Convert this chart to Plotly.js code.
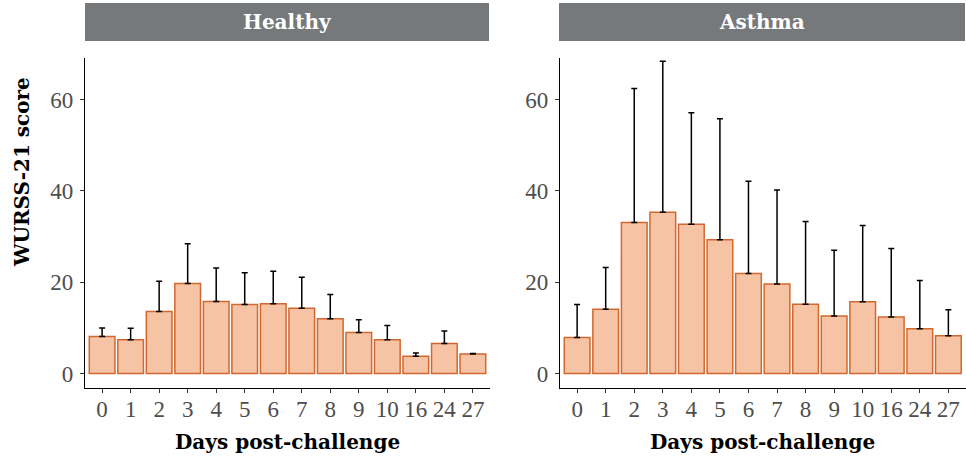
<!DOCTYPE html>
<html>
<head>
<meta charset="utf-8">
<script src="https://cdn.plot.ly/plotly-3.0.1.min.js"></script>
<style>html,body{margin:0;padding:0;background:#fff;}#chart{width:966px;height:462px;}</style>
</head>
<body>
<div id="chart"></div>
<script>
// Data
const days = ["0","1","2","3","4","5","6","7","8","9","10","16","24","27"];
const healthyMean  = [8.1, 7.4, 13.6, 19.7, 15.8, 15.1, 15.3, 14.3, 12.0, 9.0, 7.4, 3.8, 6.6, 4.3];
const healthyUpper = [10.0, 9.9, 20.2, 28.4, 23.1, 22.1, 22.4, 21.1, 17.3, 11.8, 10.5, 4.5, 9.3, 4.4];
const asthmaMean   = [7.9, 14.1, 33.1, 35.3, 32.7, 29.3, 21.9, 19.6, 15.2, 12.6, 15.7, 12.4, 9.8, 8.3];
const asthmaUpper  = [15.1, 23.2, 62.4, 68.4, 57.1, 55.8, 42.1, 40.2, 33.3, 27.0, 32.4, 27.4, 20.4, 14.0];
const panels = ["Healthy", "Asthma"];
const xTitle = "Days post-challenge";
const yTitle = "WURSS-21 score";

const W = 966, H = 462;
const px = v => v / W;
const py = v => (H - v) / H;

const fill = "#F6C4A5";
const edge = "#D2682F";
const serif = "Liberation Serif, DejaVu Serif, serif";
const titleSerif = "DejaVu Serif, Liberation Serif, serif";

function barTrace(mean, upper, xa, ya) {
  return {
    type: "bar",
    x: days,
    y: mean,
    xaxis: xa, yaxis: ya,
    width: 0.9,
    marker: {color: fill, line: {color: edge, width: 1.5}},
    error_y: {
      type: "data", symmetric: false,
      array: upper.map((u, i) => u - mean[i]),
      arrayminus: mean.map(() => 0),
      color: "#000", thickness: 1.5, width: 3
    },
    hoverinfo: "skip",
    showlegend: false
  };
}

const data = [
  barTrace(healthyMean, healthyUpper, "x", "y"),
  barTrace(asthmaMean, asthmaUpper, "x2", "y2")
];

const yRange = [-3.16, 69.1];
const tickFont = {family: serif, size: 23, color: "#4D4D4D"};

function xAxis(dom) {
  return {
    domain: dom, type: "category", range: [-0.6, 13.6],
    showline: true, linecolor: "#000", linewidth: 1.2,
    ticks: "outside", ticklen: 4, tickcolor: "#333", tickwidth: 1,
    ticklabelstandoff: -4,
    showgrid: false, zeroline: false, tickfont: tickFont, fixedrange: true
  };
}
function yAxis(dom, anchor) {
  return {
    domain: dom, range: yRange, anchor: anchor,
    tickvals: [0, 20, 40, 60],
    showline: true, linecolor: "#000", linewidth: 1.2,
    ticks: "outside", ticklen: 4, tickcolor: "#333", tickwidth: 1,
    ticklabelstandoff: 2,
    showgrid: false, zeroline: false, tickfont: tickFont, fixedrange: true
  };
}

const yDom = [py(388), py(58)];
const x1Dom = [px(85), px(490)];
const x2Dom = [px(560), px(965.5)];

const layout = {
  width: W, height: H,
  margin: {l: 0, r: 0, t: 0, b: 0},
  paper_bgcolor: "#fff", plot_bgcolor: "#fff",
  bargap: 0.1,
  xaxis: Object.assign(xAxis(x1Dom), {anchor: "y"}),
  yaxis: yAxis(yDom, "x"),
  xaxis2: Object.assign(xAxis(x2Dom), {anchor: "y2"}),
  yaxis2: yAxis(yDom, "x2"),
  shapes: [
    {type: "rect", xref: "paper", yref: "paper", x0: px(85), x1: px(489), y0: py(41), y1: py(3),
     fillcolor: "#76797C", line: {width: 0}, layer: "below"},
    {type: "rect", xref: "paper", yref: "paper", x0: px(559), x1: px(965), y0: py(41), y1: py(3),
     fillcolor: "#76797C", line: {width: 0}, layer: "below"}
  ],
  annotations: [
    {text: "<b>" + panels[0] + "</b>", xref: "paper", yref: "paper", x: px(287), y: py(22),
     showarrow: false, xanchor: "center", yanchor: "middle", font: {family: titleSerif, size: 20, color: "#fff"}},
    {text: "<b>" + panels[1] + "</b>", xref: "paper", yref: "paper", x: px(762), y: py(22),
     showarrow: false, xanchor: "center", yanchor: "middle", font: {family: titleSerif, size: 20, color: "#fff"}},
    {text: "<b>" + xTitle + "</b>", xref: "paper", yref: "paper", x: px(287.5), y: py(442),
     showarrow: false, xanchor: "center", yanchor: "middle", font: {family: titleSerif, size: 20, color: "#000"}},
    {text: "<b>" + xTitle + "</b>", xref: "paper", yref: "paper", x: px(762.5), y: py(442),
     showarrow: false, xanchor: "center", yanchor: "middle", font: {family: titleSerif, size: 20, color: "#000"}},
    {text: "<b>" + yTitle + "</b>", xref: "paper", yref: "paper", x: px(22), y: py(172),
     showarrow: false, xanchor: "center", yanchor: "middle", textangle: -90,
     font: {family: titleSerif, size: 20, color: "#000"}}
  ]
};

Plotly.newPlot("chart", data, layout, {displayModeBar: false, staticPlot: true});
</script>
</body>
</html>
